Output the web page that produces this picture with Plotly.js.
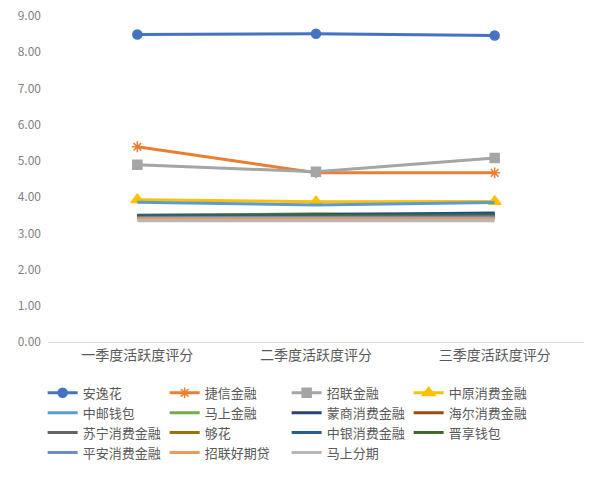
<!DOCTYPE html>
<html>
<head>
<meta charset="utf-8">
<script src="https://cdn.plot.ly/plotly-3.0.1.min.js"></script>
<style>
  html, body { margin: 0; padding: 0; background: #fff; }
  #chart { width: 600px; height: 482px; }
</style>
</head>
<body>
<div id="chart"></div>
<script>
const quarters = ['一季度活跃度评分', '二季度活跃度评分', '三季度活跃度评分']

const names = [
  '安逸花', '捷信金融', '招联金融', '中原消费金融',
  '中邮钱包', '马上金融', '蒙商消费金融', '海尔消费金融',
  '苏宁消费金融', '够花', '中银消费金融', '晋享钱包',
  '平安消费金融', '招联好期贷', '马上分期'
]

const anyihua = [8.49, 8.51, 8.46]
const jiexin = [5.39, 4.67, 4.67]
const zhaolian = [4.89, 4.70, 5.08]
const zhongyuan = [3.93, 3.87, 3.88]
const zhongyou = [3.86, 3.78, 3.85]
const mashang = [3.49, 3.54, 3.52]
const mengshang = [3.50, 3.51, 3.56]
const haier = [3.45, 3.46, 3.48]
const suning = [3.47, 3.47, 3.49]
const gouhua = [3.44, 3.45, 3.46]
const zhongyin = [3.49, 3.49, 3.53]
const jinxiang = [3.46, 3.47, 3.50]
const pingan = [3.43, 3.44, 3.45]
const zhaolianHqd = [3.40, 3.40, 3.40]
const mashangFq = [3.35, 3.35, 3.35]

const values = [
  anyihua, jiexin, zhaolian, zhongyuan,
  zhongyou, mashang, mengshang, haier,
  suning, gouhua, zhongyin, jinxiang,
  pingan, zhaolianHqd, mashangFq
]

const colors = [
  '#4472C4', '#ED7D31', '#A5A5A5', '#FFC000',
  '#5B9BD5', '#70AD47', '#264478', '#9E480E',
  '#636363', '#997300', '#255E91', '#43682B',
  '#698ED0', '#F1975A', '#B7B7B7'
]

// only the first four series carry markers
const markers = {
  0: { symbol: 'circle', size: 9 },
  1: { symbol: 'asterisk-open', size: 9 },
  2: { symbol: 'square', size: 9 },
  3: { symbol: 'triangle-up', size: 11 },
}

const data = names.map((name, i) => {
  let trace = {
    x: quarters,
    y: values[i],
    name: name,
    type: 'scatter',
    mode: markers[i] ? 'lines+markers' : 'lines',
    line: { color: colors[i], width: 3 },
  }
  if (markers[i]) {
    trace.marker = {
      symbol: markers[i].symbol,
      size: markers[i].size,
      color: colors[i],
      line: { color: colors[i], width: 1.5 },
    }
  }
  return trace
})

const font = '"Noto Sans CJK SC", "Noto Sans", sans-serif'

const layout = {
  width: 600,
  height: 482,
  margin: { l: 48, r: 16, t: 16, b: 140 },
  paper_bgcolor: '#fff',
  plot_bgcolor: '#fff',
  font: { family: font, color: '#595959', size: 13 },
  showlegend: true,
  xaxis: {
    type: 'category',
    range: [-0.5, 2.5],
    showgrid: false,
    showline: true,
    linecolor: '#D9D9D9',
    linewidth: 1,
    ticks: '',
    tickfont: { size: 14, color: '#595959' },
    zeroline: false,
  },
  yaxis: {
    range: [0, 9],
    dtick: 1,
    tickformat: '.2f',
    showgrid: false,
    zeroline: false,
    showline: false,
    ticks: '',
    ticklabelstandoff: 6,
    tickfont: { size: 12, color: '#7f7f7f' },
  },
  legend: {
    orientation: 'h',
    x: -0.01,
    xanchor: 'left',
    y: -0.11,
    yanchor: 'top',
    entrywidth: 77,
    entrywidthmode: 'pixels',
    font: { size: 13, color: '#595959' },
    traceorder: 'normal',
  },
}

Plotly.newPlot('chart', data, layout, { displayModeBar: false, staticPlot: true })
</script>
</body>
</html>
